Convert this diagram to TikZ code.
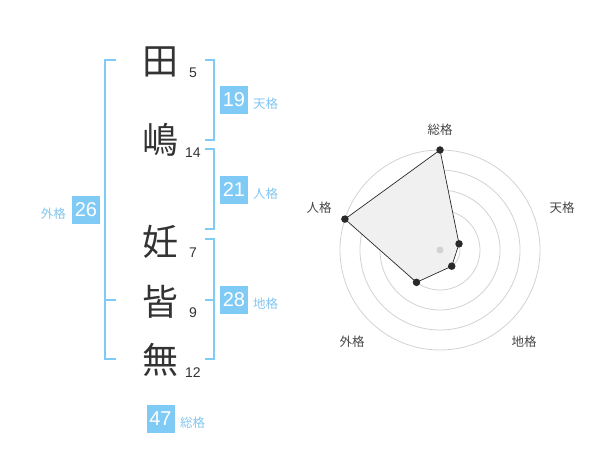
\documentclass[tikz,border=0pt]{standalone}
\usepackage{fontspec}
\setmainfont{Liberation Sans}
\newfontfamily\cjk{Noto Sans CJK JP}
\definecolor{brk}{RGB}{128,203,246}
\definecolor{lbl}{RGB}{130,198,240}
\definecolor{ink}{RGB}{51,51,51}
\definecolor{ring}{RGB}{210,210,210}
\definecolor{polyfill}{RGB}{240,240,240}
\tikzset{
  kanji/.style={font=\cjk\fontsize{36}{40}\selectfont, text=ink, inner sep=0pt},
  stroke/.style={font=\fontsize{14}{16}\selectfont, text=ink, inner sep=0pt},
  numbox/.style={fill=brk, text=white, minimum size=28pt, inner sep=0pt, font=\fontsize{20}{22}\selectfont},
  kaku/.style={font=\cjk\fontsize{12.5}{14}\selectfont, text=lbl, inner sep=0pt},
  bracket/.style={draw=brk, line width=2pt},
  ringline/.style={draw=ring, line width=0.8pt},
  radlbl/.style={font=\cjk\fontsize{12.5}{14}\selectfont, text=ink!90, inner sep=0pt},
  dot/.style={circle, fill=ink!80!black, inner sep=0pt, minimum size=7.5pt}
}
\begin{document}
\begin{tikzpicture}[x=1pt,y=-1pt]
\useasboundingbox (0,0) rectangle (600,470);
% characters
\node[kanji] (c1) at (160,61.5) {田};
\node[kanji] (c2) at (160,140) {嶋};
\node[kanji] (c3) at (160,241.5) {妊};
\node[kanji] (c4) at (160,301.5) {皆};
\node[kanji] (c5) at (160,360) {無};
% stroke counts
\node[stroke] (s1) at (193,72.5) {5};
\node[stroke] (s2) at (193,152.5) {14};
\node[stroke] (s3) at (193,252.5) {7};
\node[stroke] (s4) at (193,313) {9};
\node[stroke] (s5) at (193,372.5) {12};
% brackets
\draw[bracket] (116,60) -- (105,60) -- (105,359) -- (116,359);
\draw[bracket] (105,300) -- (116,300);
\draw[bracket] (205,60) -- (214,60) -- (214,140) -- (205,140);
\draw[bracket] (205,149) -- (214,149) -- (214,229) -- (205,229);
\draw[bracket] (205,239) -- (214,239) -- (214,359) -- (205,359);
\draw[bracket] (214,300) -- (205,300);
% number boxes
\node[numbox] (ten) at (234,100) {19};
\node[numbox] (jin) at (234,190) {21};
\node[numbox] (chi) at (234,300) {28};
\node[numbox] (gai) at (86,210) {26};
\node[numbox] (sou) at (160.5,419) {47};
\node[kaku, anchor=west] (tenl) at (253,103.5) {天格};
\node[kaku, anchor=west] (jinl) at (253,193.5) {人格};
\node[kaku, anchor=west] (chil) at (253,303.5) {地格};
\node[kaku, anchor=west] (soul) at (180,422.5) {総格};
\node[kaku, anchor=east] (gail) at (66,213.5) {外格};
% radar
\begin{scope}[shift={(440,250)}, yscale=-1]
  \foreach \r in {20,40,60,80,100} \draw[ringline] (0,0) circle[radius=\r pt];
  \coordinate (pSou) at (90:100);
  \coordinate (pTen) at (18:20);
  \coordinate (pChi) at (-54:20);
  \coordinate (pGai) at (-126:40);
  \coordinate (pJin) at (162:100);
  \filldraw[fill=polyfill, draw=ink!80!black, line width=0.7pt] (pSou) -- (pTen) -- (pChi) -- (pGai) -- (pJin) -- cycle;
  \node[circle, fill=ring, inner sep=0pt, minimum size=7pt] (ctr) at (0,0) {};
  \foreach \p in {pSou,pTen,pChi,pGai,pJin} \node[dot] at (\p) {};
\end{scope}
\node[radlbl] (rSou) at (440,130) {総格};
\node[radlbl] (rTen) at (562,208) {天格};
\node[radlbl] (rJin) at (319,208) {人格};
\node[radlbl] (rGai) at (352,342) {外格};
\node[radlbl] (rChi) at (524,342) {地格};
\end{tikzpicture}
\end{document}
